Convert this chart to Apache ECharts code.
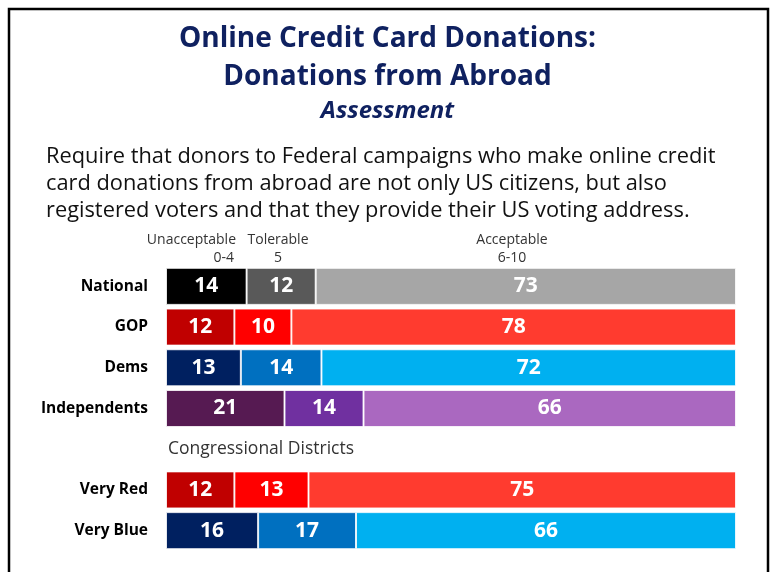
<!DOCTYPE html>
<html>
<head>
<meta charset="utf-8">
<script src="https://cdn.jsdelivr.net/npm/echarts@6/dist/echarts.min.js"></script>
<style>
  html, body { margin: 0; padding: 0; background: #fff; }
  #chart { width: 775px; height: 572px; }
</style>
</head>
<body>
<div id="chart"></div>
<script>
// rows, blank row leaves space for the "Congressional Districts" caption
const categories = ['National', 'GOP', 'Dems', 'Independents', '', 'Very Red', 'Very Blue'];
const unacceptable = [14, 12, 13, 21, null, 12, 16];
const tolerable = [12, 10, 14, 14, null, 13, 17];
const acceptable = [73, 78, 72, 66, null, 75, 66];

// colours for each row: [0-4, 5, 6-10]
const rowColors = [
    ['#000000', '#595959', '#a6a6a6'],
    ['#c00000', '#ff0000', '#ff3b2f'],
    ['#002060', '#0070c0', '#00b0f0'],
    ['#561a52', '#7030a0', '#aa68c0'],
    ['#ffffff', '#ffffff', '#ffffff'],
    ['#c00000', '#ff0000', '#ff3b2f'],
    ['#002060', '#0070c0', '#00b0f0']
];

const font = '"Open Sans", "Noto Sans", sans-serif';

// each row is drawn as a share of its own total, like a 100% stacked bar
function buildData(values, col) {
    return values.map((v, i) => {
        if (v == null) return { value: '-' };
        const total = unacceptable[i] + tolerable[i] + acceptable[i];
        return {
            value: v / total * 100,
            raw: v,
            itemStyle: { color: rowColors[i][col] }
        };
    });
}

function makeSeries(name, values, col) {
    return {
        name: name,
        type: 'bar',
        stack: 'all',
        barCategoryGap: '9%',
        data: buildData(values, col),
        itemStyle: { borderColor: 'rgba(255,255,255,0.8)', borderWidth: 1 },
        label: {
            show: true,
            position: 'inside',
            color: '#fff',
            fontFamily: font,
            fontWeight: 'bold',
            fontSize: 21,
            formatter: p => p.data.raw
        },
        emphasis: { disabled: true }
    };
}

const headStyle = { fill: '#333', font: '14px ' + font };

const option = {
    animation: false,
    title: [
        {
            text: 'Online Credit Card Donations:\nDonations from Abroad',
            left: 'center',
            top: 15,
            textStyle: { color: '#0f2160', fontFamily: font, fontWeight: 'bold', fontSize: 28, lineHeight: 38 }
        },
        {
            text: 'Assessment',
            left: 'center',
            top: 94,
            textStyle: { color: '#0f2160', fontFamily: font, fontWeight: 'bold', fontStyle: 'italic', fontSize: 24 }
        },
        {
            text: 'Require that donors to Federal campaigns who make online credit\ncard donations from abroad are not only US citizens, but also\nregistered voters and that they provide their US voting address.',
            left: 41,
            top: 138,
            textStyle: { color: '#111', fontFamily: font, fontWeight: 'normal', fontSize: 21.8, lineHeight: 27 }
        }
    ],
    grid: { left: 166, right: 39, top: 266, height: 285 },
    xAxis: { type: 'value', min: 0, max: 100, show: false },
    yAxis: {
        type: 'category',
        inverse: true,
        data: categories,
        axisLine: { show: false },
        axisTick: { show: false },
        axisLabel: { color: '#000', fontFamily: font, fontWeight: 'bold', fontSize: 15.5, margin: 18 }
    },
    series: [
        makeSeries('Unacceptable', unacceptable, 0),
        makeSeries('Tolerable', tolerable, 1),
        makeSeries('Acceptable', acceptable, 2)
    ],
    graphic: [
        { type: 'rect', shape: { x: 9, y: 9, width: 759, height: 600 }, style: { fill: 'none', stroke: '#000', lineWidth: 2.5 }, silent: true },
        { type: 'text', x: 236, y: 240, style: Object.assign({ text: 'Unacceptable', align: 'right', verticalAlign: 'middle' }, headStyle) },
        { type: 'text', x: 234, y: 258, style: Object.assign({ text: '0-4', align: 'right', verticalAlign: 'middle' }, headStyle) },
        { type: 'text', x: 278, y: 240, style: Object.assign({ text: 'Tolerable', align: 'center', verticalAlign: 'middle' }, headStyle) },
        { type: 'text', x: 278, y: 258, style: Object.assign({ text: '5', align: 'center', verticalAlign: 'middle' }, headStyle) },
        { type: 'text', x: 512, y: 240, style: Object.assign({ text: 'Acceptable', align: 'center', verticalAlign: 'middle' }, headStyle) },
        { type: 'text', x: 512, y: 258, style: Object.assign({ text: '6-10', align: 'center', verticalAlign: 'middle' }, headStyle) },
        { type: 'text', x: 168, y: 449, style: { text: 'Congressional Districts', align: 'left', verticalAlign: 'middle', fill: '#333', font: '17.5px ' + font } }
    ]
};

const chart = echarts.init(document.getElementById('chart'));
chart.setOption(option);
window.addEventListener('resize', function () {
    chart.resize();
});
</script>
</body>
</html>
